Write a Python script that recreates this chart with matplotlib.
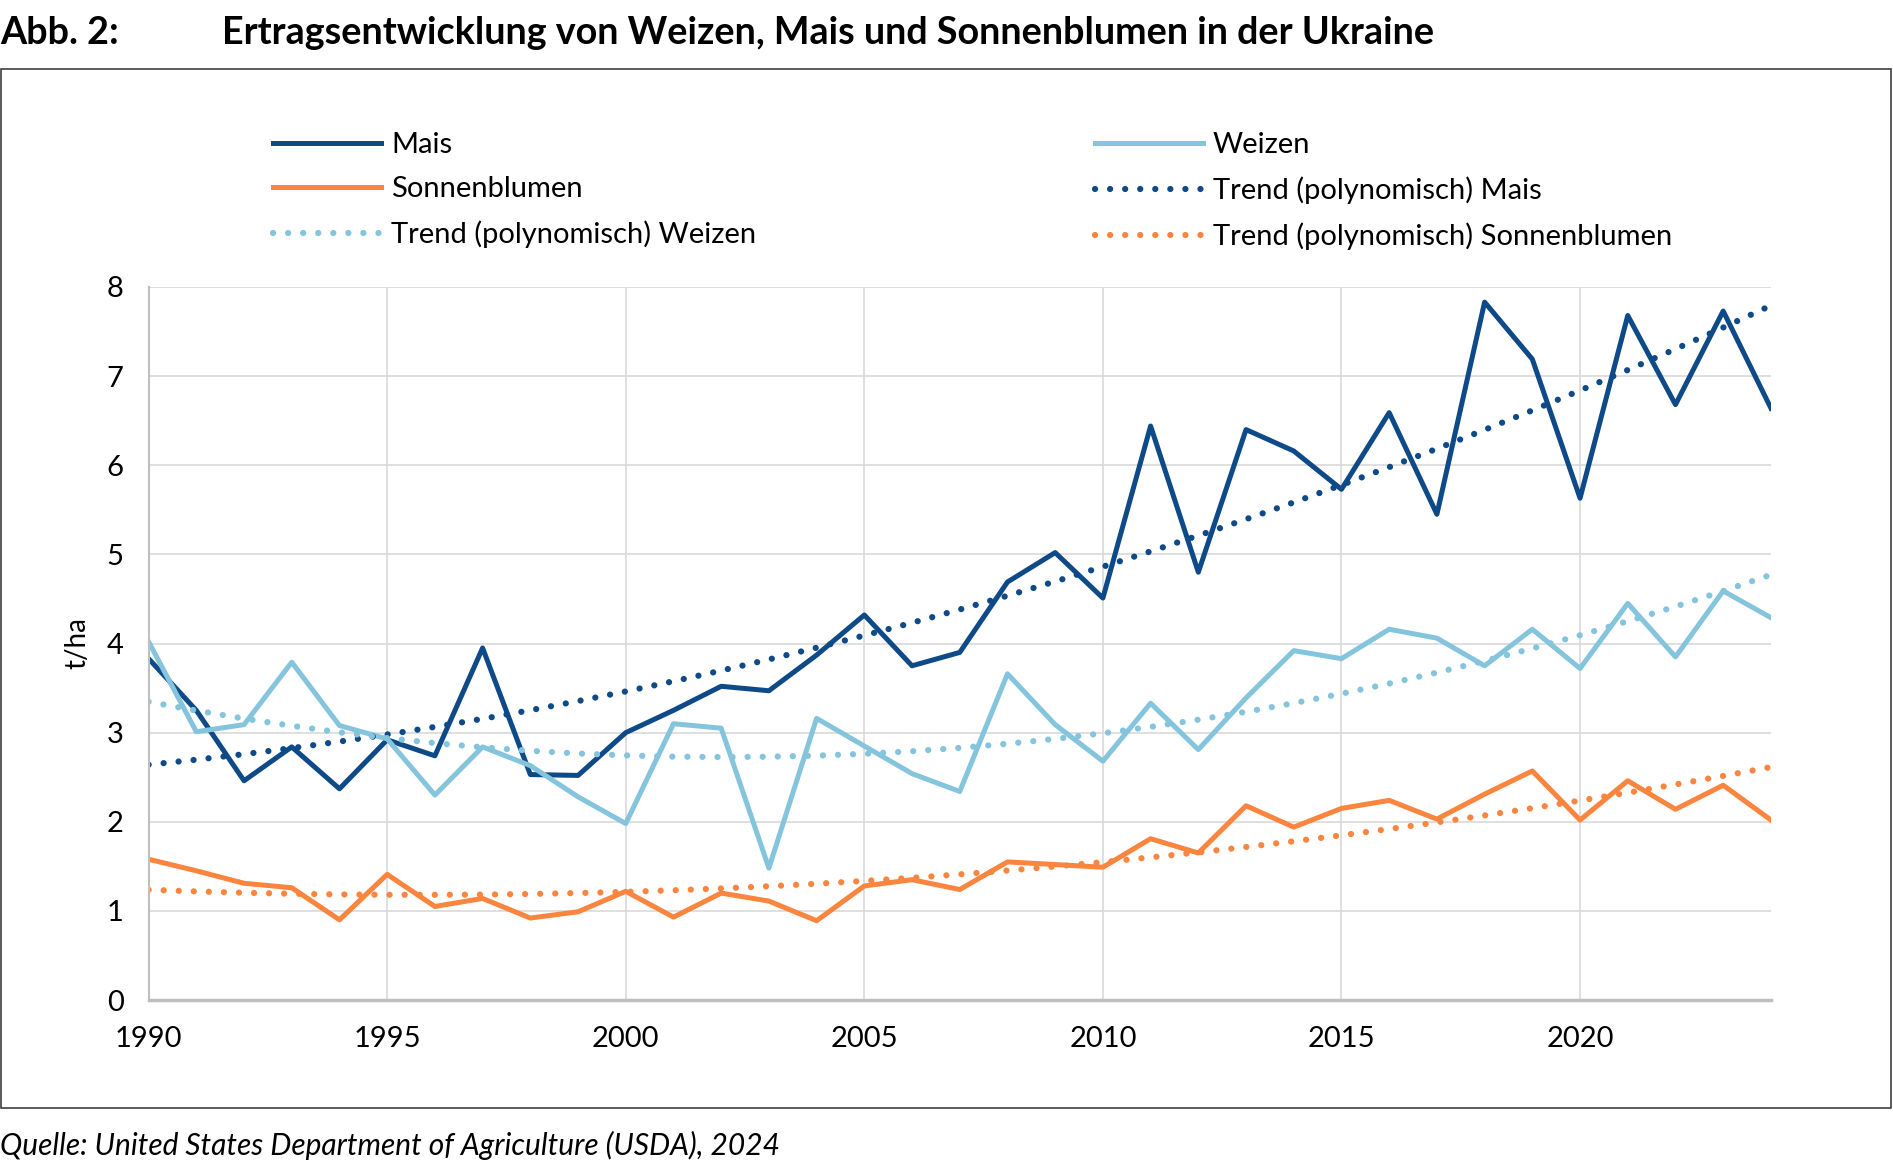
import numpy as np
import matplotlib.pyplot as plt
from matplotlib.patches import Rectangle

plt.rcParams['font.family'] = ['Lato', 'DejaVu Sans']

years = np.arange(1990, 2025)

mais = [3.83, 3.25, 2.46, 2.84, 2.37, 2.92, 2.74, 3.95, 2.53, 2.52,
        3.00, 3.25, 3.52, 3.47, 3.87, 4.32, 3.75, 3.90, 4.69, 5.02,
        4.51, 6.44, 4.80, 6.40, 6.16, 5.73, 6.59, 5.45, 7.83, 7.19,
        5.63, 7.68, 6.68, 7.73, 6.64]
weizen = [4.02, 3.01, 3.09, 3.79, 3.08, 2.93, 2.30, 2.84, 2.63, 2.28,
          1.98, 3.10, 3.05, 1.48, 3.16, 2.85, 2.54, 2.34, 3.66, 3.09,
          2.68, 3.33, 2.81, 3.39, 3.92, 3.83, 4.16, 4.06, 3.75, 4.16,
          3.72, 4.45, 3.85, 4.59, 4.29]
sonnen = [1.58, 1.45, 1.31, 1.26, 0.90, 1.41, 1.05, 1.14, 0.92, 0.99,
          1.22, 0.93, 1.20, 1.11, 0.89, 1.28, 1.35, 1.24, 1.55, 1.52,
          1.49, 1.81, 1.65, 2.18, 1.94, 2.15, 2.24, 2.03, 2.31, 2.57,
          2.02, 2.46, 2.14, 2.41, 2.02]

c_mais = '#0E4A87'
c_weizen = '#84C4DD'
c_sonnen = '#F9853F'


def trend(values):
    coef = np.polyfit(years - 1990, values, 2)
    return np.polyval(coef, years - 1990)


fig = plt.figure(figsize=(18.93, 11.68), dpi=100)
ax = fig.add_axes([0.0785, 0.1438, 0.857, 0.6105])

lw = 3.6
dlw = 4.5
dots = (0, (0.01, 2.4))
h_mais, = ax.plot(years, mais, color=c_mais, lw=lw, label='Mais')
h_weizen, = ax.plot(years, weizen, color=c_weizen, lw=lw, label='Weizen')
h_sonnen, = ax.plot(years, sonnen, color=c_sonnen, lw=lw, label='Sonnenblumen')
t_mais, = ax.plot(years, trend(mais), color=c_mais, lw=dlw, ls=dots,
                  dash_capstyle='round', label='Trend (polynomisch) Mais')
t_weizen, = ax.plot(years, trend(weizen), color=c_weizen, lw=dlw, ls=dots,
                    dash_capstyle='round', label='Trend (polynomisch) Weizen')
t_sonnen, = ax.plot(years, trend(sonnen), color=c_sonnen, lw=dlw, ls=dots,
                    dash_capstyle='round', label='Trend (polynomisch) Sonnenblumen')

ax.set_xlim(1990, 2024)
ax.set_ylim(0, 8)
ax.set_xticks(np.arange(1990, 2025, 5))
ax.set_yticks(np.arange(0, 9, 1))
ax.grid(True, color='#D9D9D9', lw=1.2)
ax.set_axisbelow(True)
for s in ['top', 'right']:
    ax.spines[s].set_visible(False)
ax.spines['left'].set_color('#BFBFBF')
ax.spines['left'].set_linewidth(1.5)
ax.spines['bottom'].set_color('#BFBFBF')
ax.spines['bottom'].set_linewidth(2.5)
ax.tick_params(axis='both', length=0, labelsize=21, colors='black')
ax.tick_params(axis='x', pad=18.5)
ax.tick_params(axis='y', pad=18)
ax.set_ylabel('t/ha', fontsize=20, labelpad=11.5)

handles = [h_mais, h_sonnen, t_weizen, h_weizen, t_mais, t_sonnen]
fig.legend(handles, [h.get_label() for h in handles], ncol=2,
           loc='upper left', bbox_to_anchor=(273 / 1893, 1 - 132 / 1168),
           frameon=False, fontsize=21, handlelength=3.7, handletextpad=0.35,
           columnspacing=11.6, labelspacing=0.63, borderpad=0, borderaxespad=0)

fig.text(0.0, 1 - 33 / 1168, 'Abb. 2:', fontsize=27.2, fontweight='bold', va='center')
fig.text(222 / 1893, 1 - 33 / 1168,
         'Ertragsentwicklung von Weizen, Mais und Sonnenblumen in der Ukraine',
         fontsize=27.2, fontweight='bold', va='center')
fig.text(0.0, 1 - 1145 / 1168,
         'Quelle: United States Department of Agriculture (USDA), 2024',
         fontsize=21.5, style='italic', va='center')

fig.patches.append(Rectangle((0.0005, 1 - 1108 / 1168), 0.9985, (1108 - 69) / 1168,
                             transform=fig.transFigure, fill=False,
                             edgecolor='#404040', lw=1.2))

fig.savefig('out.png', dpi=100)
